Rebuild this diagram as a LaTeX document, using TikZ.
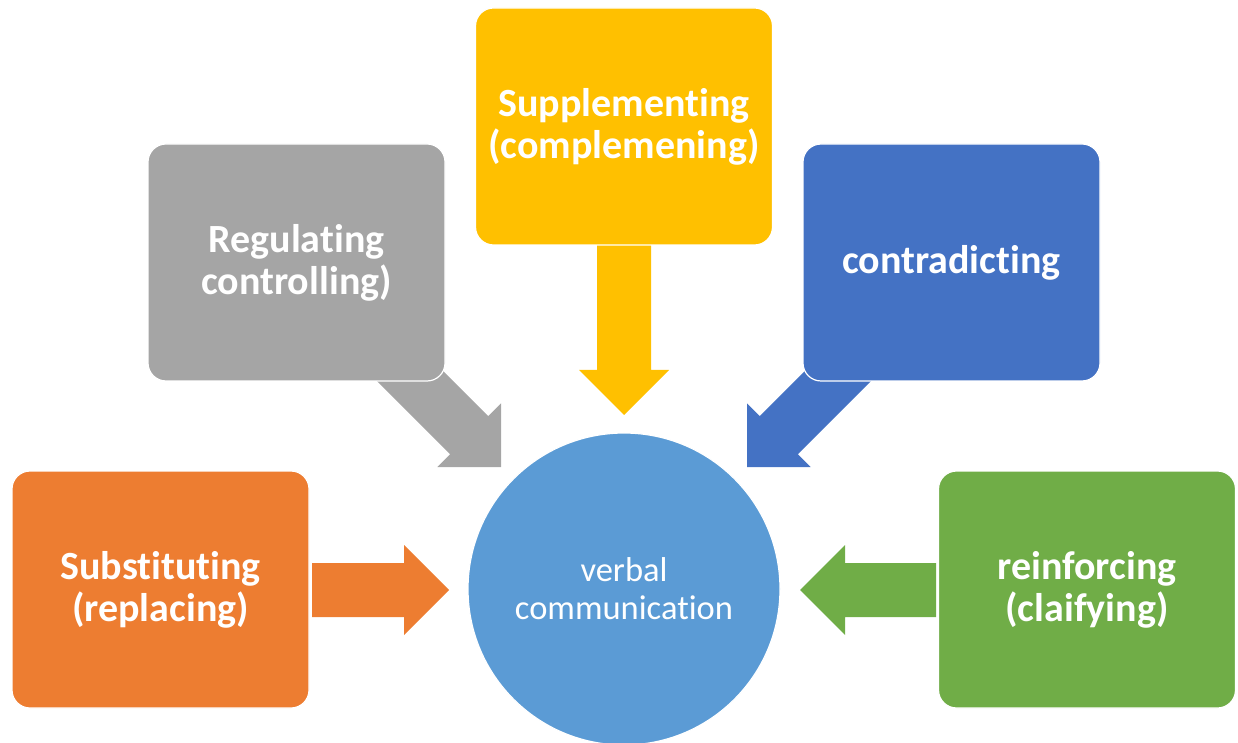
\documentclass[tikz,border=0pt]{standalone}
\usepackage{fontspec}
\setmainfont[Ligatures={NoCommon,NoDiscretionary,NoRare}]{Carlito}
\begin{document}
\begin{tikzpicture}[x=1pt,y=1pt,
  card/.style={rounded corners=18pt, draw=white, line width=1.2pt,
    minimum width=297pt, minimum height=237pt, inner sep=0pt,
    text=white, font=\bfseries\fontsize{40}{42}\selectfont, align=center},
  hub/.style={circle, fill=hubblue, draw=white, line width=1.2pt,
    minimum size=312pt, inner sep=0pt, text=white,
    font=\fontsize{34.5}{38}\selectfont, align=center},
]
\definecolor{cOrange}{HTML}{ED7D31}
\definecolor{cGray}{HTML}{A5A5A5}
\definecolor{cYellow}{HTML}{FFC000}
\definecolor{cBlue}{HTML}{4472C4}
\definecolor{cGreen}{HTML}{70AD47}
\definecolor{hubblue}{HTML}{5B9BD5}

\useasboundingbox (0,0) rectangle (1238,742);

% block arrow: tip at the given point, pointing in the given direction
\newcommand\fatarrow[4]{%
  \begin{scope}[shift={(#1)}, rotate=#2]
    \fill[#3] (-#4,-27) -- (-45,-27) -- (-45,-45) -- (0,0)
      -- (-45,45) -- (-45,27) -- (-#4,27) -- cycle;
  \end{scope}}

% arrows first, so the cards sit on top of their tails
\coordinate (tipS) at (449,152);
\coordinate (tipR) at (501,275);
\coordinate (tipP) at (624,327);
\coordinate (tipC) at (747,275);
\coordinate (tipF) at (800,152);
\fatarrow{tipS}{0}{cOrange}{137}
\fatarrow{tipR}{-45}{cGray}{160}
\fatarrow{tipP}{-90}{cYellow}{175}
\fatarrow{tipC}{-135}{cBlue}{160}
\fatarrow{tipF}{180}{cGreen}{136}

% cards
\node[card, fill=cOrange] (subst) at (160.5,152.5) {Substituting\\(replacing)};
\node[card, fill=cGray]   (regul) at (296.5,479.5) {Regulating\\controlling)};
\node[card, fill=cYellow] (suppl) at (624,615.5)   {Supplementing\\(complemening)};
\node[card, fill=cBlue]   (contr) at (951.5,479.5) {contradicting};
\node[card, fill=cGreen]  (reinf) at (1087,152.5)  {reinforcing\\(claifying)};

% centre
\node[hub] (verbal) at (624,153) {verbal\\communication};
\end{tikzpicture}
\end{document}
